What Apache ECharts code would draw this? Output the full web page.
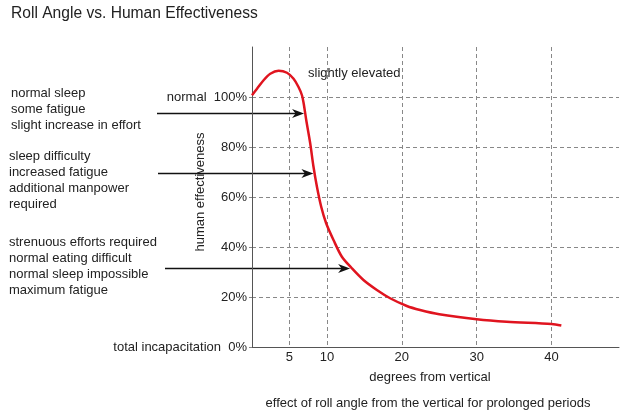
<!DOCTYPE html>
<html><head><meta charset="utf-8">
<script src="https://cdn.jsdelivr.net/npm/echarts@6/dist/echarts.min.js"></script>
<style>html,body{margin:0;padding:0;background:#fff}#c{width:620px;height:414px}</style>
</head><body><div id="c"></div>
<script>
// ---- data ----
const degrees       = [0, 0.67, 1.55, 2.44, 3.55, 4.67, 5.55, 6.21, 6.67, 6.9, 7.24, 7.77, 8.21, 8.67, 9.24, 9.9, 10.88, 12.0, 13.33, 14.88, 16.67, 18.44, 20.67, 22.44, 25, 30, 34, 40, 41.3];
const effectiveness = [100.7, 103.3, 106.7, 109.3, 110.5, 109.7, 107.3, 104, 100.7, 97.4, 90.8, 81.5, 72.1, 64.1, 56.1, 49.5, 42.8, 36.1, 31.5, 26.8, 22.8, 19.5, 16.4, 14.8, 13.1, 11.1, 10.1, 9.2, 8.6];
const xTicks = [5, 10, 20, 30, 40];
const yTicks = [0, 20, 40, 60, 80, 100];
const yTickPrefix = {100: 'normal', 0: 'total incapacitation'};
const arrowTips = [[6.95, 93.5], [8.2, 69.5], [13.1, 31.5]];
const noteBlocks = [
  ['normal sleep', 'some fatigue', 'slight increase in effort'],
  ['sleep difficulty', 'increased fatigue', 'additional manpower', 'required'],
  ['strenuous efforts required', 'normal eating difficult', 'normal sleep impossible', 'maximum fatigue']
];
const titleText = 'Roll Angle vs. Human Effectiveness';
const xName = 'degrees from vertical';
const yName = 'human effectiveness';
const caption = 'effect of roll angle from the vertical for prolonged periods';
const peakNote = 'slightly elevated';

// ---- layout ----
const FONT = '"Liberation Sans", Arial, Helvetica, sans-serif';
const TXT = '#222';
const noteLayout = [{x: 11, y: 85}, {x: 9, y: 148.5}, {x: 9, y: 234.5}];
const arrowStartX = [157, 158, 165];

const chart = echarts.init(document.getElementById('c'), null, {renderer: 'canvas'});
const option = {
  animation: false,
  backgroundColor: '#fff',
  textStyle: {fontFamily: FONT},
  title: {text: titleText, left: 11, top: 6, padding: 0,
    textStyle: {fontFamily: FONT, fontSize: 15.6, fontWeight: 'normal', color: TXT}},
  grid: {left: 252, right: 1, top: 47, bottom: 67, containLabel: false},
  xAxis: {
    type: 'value', min: 0, max: 49,
    axisLine: {show: true, lineStyle: {color: '#555', width: 1}},
    axisTick: {show: false, customValues: xTicks},
    axisLabel: {customValues: xTicks, margin: 4, color: TXT, fontSize: 13, fontFamily: FONT},
    splitLine: {show: true, lineStyle: {color: '#888', type: [4, 3], width: 1}}
  },
  yAxis: {
    type: 'value', min: 0, max: 120, interval: 20,
    name: yName, nameLocation: 'middle', nameRotate: 90, nameGap: 45, nameMoveOverlap: false,
    nameTextStyle: {color: TXT, fontSize: 13, fontFamily: FONT, padding: [0, 0, 0, 10]},
    axisLine: {show: true, lineStyle: {color: '#555', width: 1}},
    axisTick: {show: true, length: 3, lineStyle: {color: '#888'}, customValues: yTicks},
    axisLabel: {customValues: yTicks, margin: 5, color: TXT, fontSize: 13, fontFamily: FONT,
      formatter: v => (yTickPrefix[v] ? yTickPrefix[v] + '  ' : '') + v + '%'},
    splitLine: {show: true, showMinLine: false, showMaxLine: true,
      lineStyle: {color: '#888', type: [4, 3], width: 1}}
  },
  series: [{
    type: 'line', data: degrees.map((d, i) => [d, effectiveness[i]]),
    smooth: 0.3, symbol: 'none',
    lineStyle: {color: '#e0141f', width: 2.5}
  }]
};
chart.setOption(option);

function draw() {
  const g = [];
  noteBlocks.forEach((lines, i) => {
    g.push({type: 'text', x: noteLayout[i].x, y: noteLayout[i].y,
      style: {text: lines.join('\n'), fill: TXT, font: '13px ' + FONT, lineHeight: 16,
        align: 'left', verticalAlign: 'top'}});
  });
  arrowTips.forEach((t, i) => {
    const p = chart.convertToPixel({gridIndex: 0}, t);
    const y = Math.round(p[1]) + 0.5, x = p[0];
    g.push({type: 'line', shape: {x1: arrowStartX[i], y1: y, x2: x - 6, y2: y},
      style: {stroke: '#111', lineWidth: 1.3}});
    g.push({type: 'polygon', shape: {points: [[x, y], [x - 12, y - 4.5], [x - 8.5, y], [x - 12, y + 4.5]]},
      style: {fill: '#111'}});
  });
  g.push({type: 'text', x: 430, y: 377,
    style: {text: xName, fill: TXT, font: '13px ' + FONT, align: 'center', verticalAlign: 'middle'}});
  g.push({type: 'text', x: 428, y: 403.5,
    style: {text: caption, fill: TXT, font: '13px ' + FONT, align: 'center', verticalAlign: 'middle'}});
  g.push({type: 'text', x: 308, y: 73,
    style: {text: peakNote, fill: TXT, font: '13px ' + FONT, align: 'left', verticalAlign: 'middle'}});
  chart.setOption({graphic: {elements: g}});
}
draw();
</script></body></html>
